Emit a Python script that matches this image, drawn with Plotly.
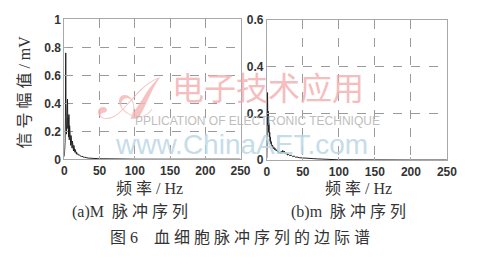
import plotly.graph_objects as go

# ---- data ----
freq_m = [0, 0.5, 1, 1.5, 2, 2.5, 3, 3.5, 4, 4.5, 5, 5.5, 6, 6.5, 7, 7.5, 8, 8.5, 9, 9.5,
          10, 10.5, 11, 11.5, 12, 12.5, 13, 13.5, 14, 14.5, 15, 15.5, 16, 16.5, 17, 17.5,
          18, 19, 20, 21, 22, 23, 24, 25, 26, 27, 28, 29, 30, 32, 34, 36, 38, 40, 42, 45,
          48, 50, 55, 60, 65, 70, 75, 80, 85, 90, 100, 120, 150, 200, 250]
amp_m = [0.02, 0.05, 0.12, 0.30, 0.76, 0.25, 0.18, 0.33, 0.20, 0.43, 0.22, 0.30, 0.16, 0.32,
         0.14, 0.24, 0.12, 0.21, 0.10, 0.17, 0.09, 0.15, 0.08, 0.13, 0.07, 0.11, 0.06, 0.10,
         0.055, 0.08, 0.05, 0.07, 0.045, 0.06, 0.04, 0.05, 0.035, 0.04, 0.03, 0.032, 0.025,
         0.026, 0.02, 0.022, 0.017, 0.018, 0.014, 0.015, 0.012, 0.011, 0.009, 0.008, 0.008,
         0.006, 0.006, 0.005, 0.005, 0.004, 0.004, 0.003, 0.003, 0.003, 0.002, 0.003, 0.002,
         0.002, 0.001, 0.001, 0.001, 0.001, 0.001]

freq_s = [0, 0.5, 1, 1.5, 2, 2.5, 3, 3.5, 4, 4.5, 5, 5.5, 6, 7, 8, 9, 10, 11, 12, 13, 14,
          15, 16, 17, 18, 19, 20, 21, 22, 23, 24, 25, 26, 27, 28, 29, 30, 32, 34, 36, 38,
          40, 42, 45, 48, 50, 55, 60, 65, 70, 75, 80, 85, 90, 100, 120, 150, 200, 250]
amp_s = [0.01, 0.08, 0.29, 0.15, 0.21, 0.12, 0.16, 0.10, 0.12, 0.08, 0.10, 0.07, 0.08, 0.06,
         0.065, 0.05, 0.055, 0.045, 0.05, 0.04, 0.045, 0.035, 0.04, 0.03, 0.035, 0.028, 0.038,
         0.03, 0.042, 0.032, 0.04, 0.03, 0.035, 0.026, 0.03, 0.022, 0.025, 0.02, 0.022, 0.016,
         0.018, 0.013, 0.014, 0.011, 0.01, 0.009, 0.008, 0.007, 0.007, 0.006, 0.005, 0.006,
         0.004, 0.003, 0.002, 0.002, 0.001, 0.001, 0.001]

x_ticks = [0, 50, 100, 150, 200, 250]
y_ticks_m = [0, 0.2, 0.4, 0.6, 0.8, 1]
y_ticks_s = [0, 0.2, 0.4, 0.6]
y_tick_text_m = ["0", "0.2", "0.4", "0.6", "0.8", "1"]
y_tick_text_s = ["0", "0.2", "0.4", "0.6"]

x_title = "频 率 / Hz"
y_title = "信 号 幅 值 / mV"
cap_a = "(a)M  脉 冲 序 列"
cap_b = "(b)m  脉 冲 序 列"
fig_caption = "图 6    血 细 胞 脉 冲 序 列 的 边 际 谱"

W, H = 491, 260

def px(x):
    return x / W

def py(y):
    return 1 - y / H

fig = go.Figure()
fig.add_trace(go.Scatter(x=freq_m, y=amp_m, mode="lines", xaxis="x", yaxis="y",
                         line=dict(color="#222222", width=1), showlegend=False))
fig.add_trace(go.Scatter(x=freq_s, y=amp_s, mode="lines", xaxis="x2", yaxis="y2",
                         line=dict(color="#222222", width=1), showlegend=False))

tickfont = dict(family="Liberation Sans, Arial", size=12, color="#333333", weight="bold")
common_x = dict(range=[0, 250], tickvals=x_ticks, showgrid=True, gridcolor="#9a9a9a",
                griddash="dash", gridwidth=1, showline=True, linecolor="#a8a8a8",
                linewidth=1, mirror=True, ticks="inside", ticklen=3, tickcolor="#a8a8a8",
                zeroline=False, tickfont=tickfont, fixedrange=True)
common_y = dict(showgrid=True, gridcolor="#9a9a9a", griddash="dash", gridwidth=1,
                showline=True, linecolor="#a8a8a8", linewidth=1, mirror=True,
                ticks="inside", ticklen=3, tickcolor="#a8a8a8", zeroline=False,
                tickfont=tickfont, fixedrange=True)

fig.update_layout(
    width=W, height=H,
    margin=dict(l=0, r=0, t=0, b=0),
    paper_bgcolor="white", plot_bgcolor="white",
    xaxis=dict(domain=[px(63), px(244)], anchor="y", **common_x),
    yaxis=dict(domain=[py(161), py(13)], anchor="x", range=[0, 1],
               tickvals=y_ticks_m, ticktext=y_tick_text_m, **common_y),
    xaxis2=dict(domain=[px(271), px(456)], anchor="y2", **common_x),
    yaxis2=dict(domain=[py(162), py(14)], anchor="x2", range=[0, 0.6],
                tickvals=y_ticks_s, ticktext=y_tick_text_s, **common_y),
)

serif = "Liberation Serif, Noto Sans CJK SC"
txt_color = "#333333"
ann = []
def add_text(text, x, y, size, color=txt_color, family=serif, angle=0, opacity=1.0):
    ann.append(dict(text=text, x=px(x), y=py(y), xref="paper", yref="paper",
                    showarrow=False, xanchor="center", yanchor="middle",
                    textangle=angle, opacity=opacity,
                    font=dict(family=family, size=size, color=color)))

add_text(x_title, 150, 192, 16)
add_text(x_title, 365, 192, 16)
add_text(y_title, 22, 90, 16, angle=-90)
add_text(cap_a, 130, 217, 16)
add_text(cap_b, 355, 217, 16)
add_text(fig_caption, 243, 244, 16)

# watermark
add_text("𝒜", 130, 96, 60, color="#f4b4b4", family="DejaVu Serif", opacity=0.8)
add_text("电子技术应用", 272, 84, 32, color="#f2a8a8", family="Noto Sans CJK SC", opacity=0.75)
add_text("PPLICATION OF ELECTRONIC TECHNIQUE", 261, 120, 12, color="#b8b8b8",
         family="Liberation Sans", opacity=0.9)
add_text("www.ChinaAET.com", 245, 145, 28, color="#bcd8e6", family="Liberation Sans",
         opacity=0.85)

fig.update_layout(annotations=ann)
fig.write_html("out.html")
